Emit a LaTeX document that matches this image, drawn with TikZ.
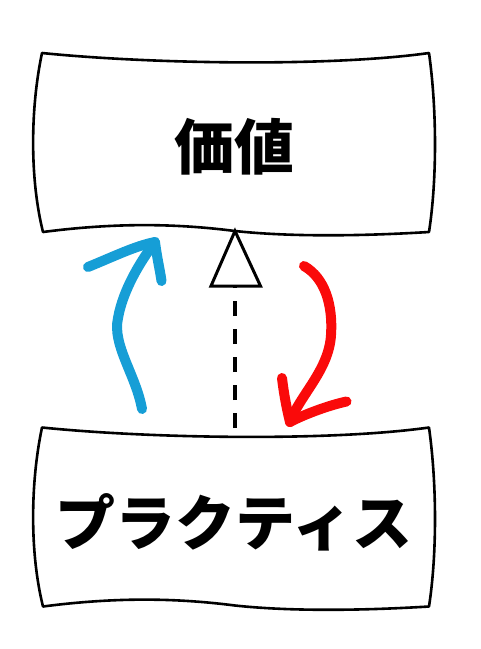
\documentclass[tikz,border=0pt]{standalone}
\usepackage{fontspec}
\newfontfamily\cjk{Noto Sans CJK JP Black}
\definecolor{penblue}{RGB}{22,158,214}
\definecolor{penred}{RGB}{250,10,10}
\tikzset{
  boxline/.style={line width=2.6pt, line join=round},
  label/.style={inner sep=0pt, font=\cjk\fontsize{60pt}{60pt}\selectfont},
  pen/.style={line width=10pt, line cap=round, line join=round},
  dashconn/.style={line width=3.2pt, dash pattern=on 15pt off 13pt},
  tri/.style={line width=3pt, line join=miter, fill=white}
}
\begin{document}
\begin{tikzpicture}[x=1pt,y=-1pt]
\useasboundingbox (0,0) rectangle (481,649);
% boxes
\foreach \dy/\nm in {0/vbox,374.5/pbox}{
  \draw[boxline,shift={(0,\dy)}] (42,53)
    .. controls (150,64) and (330,67) .. (429,53)
    .. controls (437,110) and (437,180) .. (429,232)
    .. controls (380,235) and (300,238) .. (235,231)
    .. controls (180,224) and (120,222) .. (43,232)
    .. controls (30,180) and (30,110) .. cycle;
}
\node[label] (val) at (234,147) {価値};
\node[label] (prac) at (234,522) {プラクティス};
% connector points
\coordinate (ptop) at (235,428);
\coordinate (vbot) at (235,231);
\coordinate (tl) at (211,286);
\coordinate (tr) at (260.5,286);
\draw[dashconn] (ptop) -- (235,286);
\draw[tri] (vbot) -- (tl) -- (tr) -- cycle;
% blue arrow
\coordinate (b0) at (142,409);
\coordinate (b1) at (155,242);
\draw[pen,penblue] (b0) .. controls (136,375) and (112,345) .. (118,318)
  .. controls (123,290) and (140,262) .. (b1);
\draw[pen,penblue] (88,267) .. controls (115,256) and (135,246) .. (b1)
  .. controls (157,258) and (160,270) .. (161.5,281);
% red arrow
\coordinate (r0) at (304,266);
\coordinate (r1) at (290,422);
\draw[pen,penred] (r0) .. controls (325,278) and (333,305) .. (331,335)
  .. controls (329,370) and (300,395) .. (r1);
\draw[pen,penred] (282,378) .. controls (284,395) and (287,410) .. (r1)
  .. controls (305,414) and (330,405) .. (346.5,401.5);
\end{tikzpicture}
\end{document}
